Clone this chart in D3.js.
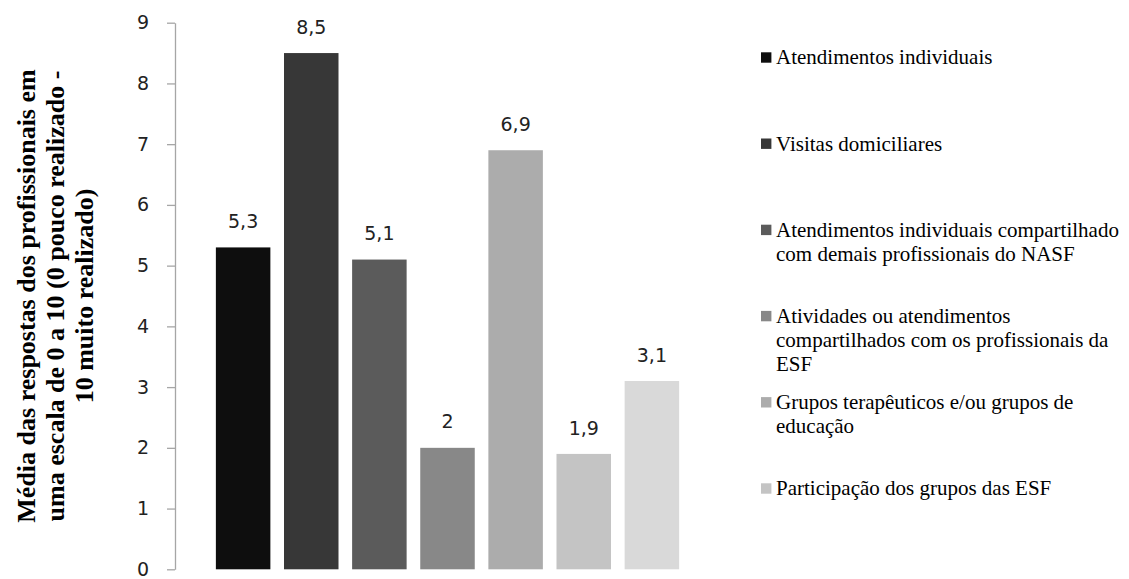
<!DOCTYPE html>
<html>
<head>
<meta charset="utf-8">
<script src="https://cdn.jsdelivr.net/npm/d3@7"></script>
<style>
  html, body { margin: 0; padding: 0; background: #fff; }
  svg { display: block; }
</style>
</head>
<body>
<svg id="chart" width="1129" height="579"></svg>
<script>
// Series values (one bar per series, single category)
const values = [5.3, 8.5, 5.1, 2, 6.9, 1.9, 3.1];
const barColors = ["#0e0e0e", "#373737", "#5b5b5b", "#888888", "#acacac", "#c4c4c4", "#d9d9d9"];
// Legend entries (the last series has no name), already broken into lines
const legendLines = [
  ["Atendimentos individuais"],
  ["Visitas domiciliares"],
  ["Atendimentos individuais compartilhado", "com demais profissionais do NASF"],
  ["Atividades ou atendimentos", "compartilhados com os profissionais da", "ESF"],
  ["Grupos terapêuticos e/ou grupos de", "educação"],
  ["Participação dos grupos das ESF"]
];
const yTicks = [0, 1, 2, 3, 4, 5, 6, 7, 8, 9];
const yTitleLines = [
  "Média das respostas dos profissionais em",
  "uma escala de 0 a 10 (0 pouco realizado -",
  "10 muito realizado)"
];

const svg = d3.select("#chart");
const plot = { left: 175, right: 720, top: 22.7, bottom: 569.3 };

const x = d3.scaleBand()
  .domain(d3.range(values.length))
  .range([plot.left, plot.right])
  .paddingInner(0.2)
  .paddingOuter(0.6);

const y = d3.scaleLinear()
  .domain([0, 9])
  .range([plot.bottom, plot.top]);

const fmt = v => String(v).replace(".", ",");

// Y axis
const yAxis = svg.append("g")
  .attr("transform", `translate(${plot.left},0)`)
  .call(d3.axisLeft(y).tickValues(yTicks).tickFormat(d3.format("d"))
    .tickSize(8).tickSizeOuter(0).tickPadding(18));
yAxis.select(".domain").attr("stroke", "#a6a6a6").attr("stroke-width", 1.3);
yAxis.selectAll(".tick line").attr("stroke", "#a6a6a6").attr("stroke-width", 1.3);
yAxis.selectAll(".tick text")
  .attr("font-family", "'DejaVu Sans', sans-serif")
  .attr("font-size", 19)
  .attr("fill", "#222");

// Bars
svg.append("g").selectAll("rect")
  .data(values)
  .join("rect")
  .attr("x", (d, i) => x(i))
  .attr("y", d => y(d))
  .attr("width", x.bandwidth())
  .attr("height", d => y(0) - y(d))
  .attr("fill", (d, i) => barColors[i]);

// Value labels
svg.append("g").selectAll("text")
  .data(values)
  .join("text")
  .attr("x", (d, i) => x(i) + x.bandwidth() / 2)
  .attr("y", d => y(d) - 26)
  .attr("dy", "0.35em")
  .attr("text-anchor", "middle")
  .attr("font-family", "'DejaVu Sans', sans-serif")
  .attr("font-size", 19)
  .attr("fill", "#222")
  .text(d => fmt(d));

// Y axis title
const title = svg.append("text")
  .attr("transform", `translate(0,296) rotate(-90)`)
  .attr("text-anchor", "middle")
  .attr("font-family", "'Liberation Serif', 'Times New Roman', serif")
  .attr("font-weight", "bold")
  .attr("font-size", 26)
  .attr("fill", "#000");
title.selectAll("tspan")
  .data(yTitleLines)
  .join("tspan")
  .attr("x", 0)
  .attr("y", (d, i) => 35 + i * 29)
  .text(d => d);

// Legend
const legend = svg.append("g").attr("transform", "translate(761,0)");
const entries = legend.selectAll("g")
  .data(legendLines)
  .join("g")
  .attr("transform", (d, i) => `translate(0,${57.5 + i * 86.2})`);
entries.append("rect")
  .attr("x", 0)
  .attr("y", -5.2)
  .attr("width", 10.4)
  .attr("height", 10.4)
  .attr("fill", (d, i) => barColors[i]);
entries.append("text")
  .attr("font-family", "'Liberation Serif', 'Times New Roman', serif")
  .attr("font-size", 21)
  .attr("fill", "#000")
  .selectAll("tspan")
  .data(d => d)
  .join("tspan")
  .attr("x", 15)
  .attr("y", (d, i) => i * 24)
  .attr("dy", "0.33em")
  .text(d => d);
</script>
</body>
</html>
